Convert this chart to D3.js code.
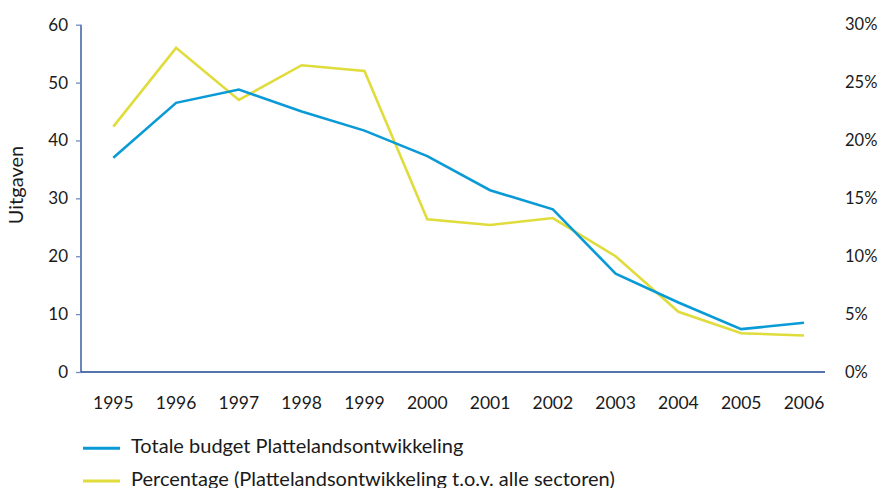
<!DOCTYPE html>
<html><head><meta charset="utf-8">
<script src="https://cdn.jsdelivr.net/npm/d3@7"></script>
<style>body{margin:0;background:#fff}svg{display:block}text{font-family:Lato,"Open Sans",sans-serif;fill:#1a1a1a}</style>
</head><body><svg id="c" width="884" height="488"></svg>
<script>
const years = ["1995","1996","1997","1998","1999","2000","2001","2002","2003","2004","2005","2006"];
const budget = [37.0, 46.5, 48.8, 45.0, 41.7, 37.3, 31.4, 28.1, 17.0, 12.0, 7.4, 8.5];
const percentage = [21.2, 28.0, 23.5, 26.5, 26.0, 13.2, 12.7, 13.3, 10.0, 5.2, 3.35, 3.15];
const leftTicks = [0,10,20,30,40,50,60];
const rightTicks = [0,5,10,15,20,25,30];
const legendLabels = ["Totale budget Plattelandsontwikkeling","Percentage (Plattelandsontwikkeling t.o.v. alle sectoren)"];
const colors = ["#0a9ad6","#dfdc3c"];

const svg = d3.select("#c");
const x = d3.scalePoint().domain(years).range([113.3, 804]);
const yL = d3.scaleLinear().domain([0,60]).range([372, 24.7]);
const yR = d3.scaleLinear().domain([0,30]).range([372, 24.7]);
const axisCol = "#1d4592";

// left axis
const gl = svg.append("g").attr("transform","translate(81,0)")
  .call(d3.axisLeft(yL).tickValues(leftTicks).tickSize(5).tickPadding(8).tickFormat(d3.format("d")));
gl.select(".domain").attr("stroke",axisCol).attr("stroke-width",1.3).attr("d","M0,"+yL(60)+"V"+yL(0));
gl.selectAll(".tick line").attr("stroke","#6f8cc0").attr("stroke-width",1.3);
gl.selectAll(".tick text").attr("font-size",17).attr("fill","#1a1a1a").attr("font-family","Lato");

// bottom baseline
svg.append("line").attr("x1",81).attr("x2",825).attr("y1",yL(0)).attr("y2",yL(0))
  .attr("stroke",axisCol).attr("stroke-width",1.3);

// right tick labels
svg.append("g").selectAll("text").data(rightTicks).join("text")
  .attr("x",845).attr("y",d=>yR(d)).attr("dy","0.35em").attr("font-size",16.5)
  .text(d=>d+"%");

// x labels
svg.append("g").selectAll("text").data(years).join("text")
  .attr("x",d=>x(d)).attr("y",409).attr("text-anchor","middle").attr("font-size",17.5)
  .text(d=>d);

// y title
svg.append("text").attr("transform","translate(23,185) rotate(-90)")
  .attr("text-anchor","middle").attr("font-size",20).text("Uitgaven");

// lines
const lineL = d3.line().x((d,i)=>x(years[i])).y(d=>yL(d));
const lineR = d3.line().x((d,i)=>x(years[i])).y(d=>yR(d));
svg.append("path").datum(percentage).attr("d",lineR).attr("fill","none")
  .attr("stroke",colors[1]).attr("stroke-width",2.6);
svg.append("path").datum(budget).attr("d",lineL).attr("fill","none")
  .attr("stroke",colors[0]).attr("stroke-width",2.6);

// legend
const lg = svg.append("g").selectAll("g").data(legendLabels).join("g")
  .attr("transform",(d,i)=>`translate(0,${448.3+i*32.7})`);
lg.append("line").attr("x1",83).attr("x2",120).attr("stroke",(d,i)=>colors[i]).attr("stroke-width",3);
lg.append("text").attr("x",131).attr("y",4.5).attr("font-size",20).text(d=>d);
</script></body></html>
